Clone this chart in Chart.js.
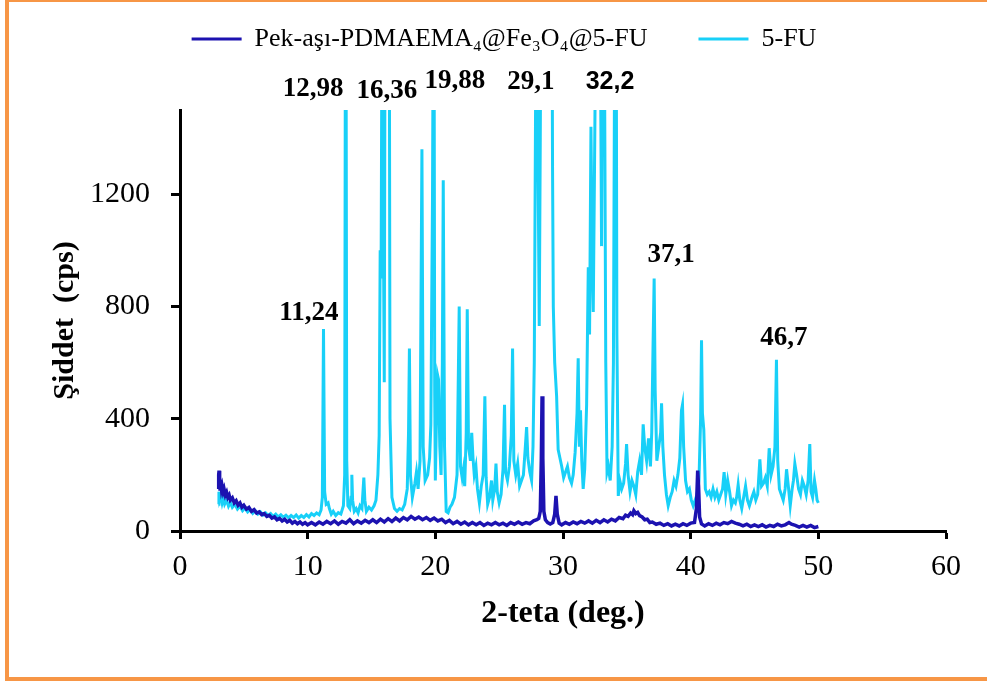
<!DOCTYPE html>
<html>
<head>
<meta charset="utf-8">
<script src="https://cdn.jsdelivr.net/npm/chart.js@4"></script>
<style>
  body { margin: 0; background: #fff; }
  #wrap { position: relative; width: 987px; height: 682px; overflow: hidden; }
  #frame { position: absolute; left: 5px; top: -2px; width: 990px; height: 675px; border: 4px solid #F79646; pointer-events: none; }
</style>
</head>
<body>
<div id="wrap">
  <canvas id="xrd"></canvas>
  <div id="frame"></div>
</div>
<script>
// series names (legend order)
const seriesNames = ['Pek-aşı-PDMAEMA₄@Fe₃O₄@5-FU', '5-FU'];

// axis tick values
const xTicks = [0, 10, 20, 30, 40, 50, 60];
const yTicks = [0, 400, 800, 1200];

// Pek-aşı-PDMAEMA4@Fe3O4@5-FU scan: [2-teta, cps]
const pekScan = [
  [3.00,150],[3.03,200],[3.06,215],[3.09,180],[3.12,190],[3.16,160],[3.20,175],[3.25,150],[3.30,160],[3.38,140],
  [3.45,150],[3.55,128],[3.65,138],[3.75,120],[3.85,128],[3.95,110],[4.10,118],[4.25,100],[4.40,108],[4.55,92],
  [4.70,100],[4.85,85],[5.00,92],[5.20,78],[5.40,84],[5.60,70],[5.80,76],[6.00,64],[6.20,68],[6.40,58],
  [6.60,62],[6.80,52],[7.00,56],[7.20,46],[7.40,50],[7.60,40],[7.80,45],[8.00,36],[8.20,42],[8.40,32],
  [8.60,38],[8.80,28],[9.00,34],[9.20,26],[9.40,32],[9.60,24],[9.80,30],[10.00,22],[10.30,30],[10.60,22],
  [10.90,32],[11.20,24],[11.50,34],[11.80,26],[12.10,36],[12.40,24],[12.70,34],[13.00,28],[13.30,40],[13.60,26],
  [13.90,36],[14.20,28],[14.50,38],[14.80,30],[15.10,40],[15.40,30],[15.70,42],[16.00,32],[16.30,44],[16.60,34],
  [16.90,46],[17.20,36],[17.50,48],[17.80,40],[18.10,52],[18.40,42],[18.70,50],[19.00,40],[19.30,48],[19.60,38],
  [19.90,46],[20.20,36],[20.50,42],[20.80,30],[21.10,38],[21.40,26],[21.70,34],[22.00,24],[22.30,32],[22.60,22],
  [22.90,30],[23.20,22],[23.50,30],[23.80,20],[24.10,28],[24.40,22],[24.70,30],[25.00,22],[25.30,28],[25.60,20],
  [25.90,30],[26.20,24],[26.50,32],[26.80,24],[27.10,30],[27.40,26],[27.70,36],[27.95,40],[28.10,45],[28.22,70],
  [28.30,250],[28.36,480],[28.42,260],[28.50,70],[28.62,40],[28.80,30],[29.00,25],[29.20,30],[29.35,60],[29.45,125],
  [29.55,60],[29.70,28],[29.90,22],[30.20,30],[30.50,24],[30.80,32],[31.10,26],[31.40,34],[31.70,28],[32.00,36],
  [32.30,28],[32.60,38],[32.90,30],[33.20,40],[33.50,32],[33.80,42],[34.10,36],[34.40,48],[34.70,44],[34.90,56],
  [35.10,52],[35.30,64],[35.45,58],[35.55,72],[35.70,62],[35.85,66],[36.00,55],[36.20,50],[36.40,40],[36.60,42],
  [36.80,30],[37.00,32],[37.30,24],[37.60,28],[37.90,20],[38.20,26],[38.50,18],[38.80,24],[39.10,18],[39.40,26],
  [39.70,20],[40.00,28],[40.30,30],[40.45,80],[40.55,215],[40.62,160],[40.70,50],[40.85,25],[41.10,18],[41.40,26],
  [41.70,20],[42.00,28],[42.30,22],[42.60,30],[42.90,26],[43.20,34],[43.50,28],[43.80,24],[44.10,18],[44.40,24],
  [44.70,16],[45.00,22],[45.30,16],[45.60,22],[45.90,14],[46.20,20],[46.50,16],[46.80,24],[47.10,18],[47.40,22],
  [47.70,30],[47.90,24],[48.20,20],[48.50,14],[48.80,20],[49.10,14],[49.40,20],[49.70,12],[50.00,16]
];

// 5-FU scan: [2-teta, cps]
const fuScan = [
  [3.00,95],[3.05,140],[3.10,110],[3.20,125],[3.30,100],[3.40,118],[3.50,96],[3.65,110],[3.80,88],[3.95,102],
  [4.10,84],[4.30,95],[4.50,78],[4.70,88],[4.90,72],[5.10,82],[5.30,68],[5.50,76],[5.70,63],[5.90,72],
  [6.10,60],[6.30,68],[6.50,57],[6.70,65],[6.90,55],[7.10,62],[7.30,52],[7.50,60],[7.70,50],[7.90,58],
  [8.10,49],[8.30,56],[8.50,47],[8.70,55],[8.90,48],[9.10,57],[9.30,46],[9.50,55],[9.70,48],[9.90,58],
  [10.10,50],[10.30,62],[10.50,55],[10.70,64],[10.90,58],[11.05,75],[11.15,120],[11.24,720],[11.33,140],[11.45,95],
  [11.60,100],[11.70,80],[11.85,60],[12.00,70],[12.20,55],[12.40,65],[12.60,60],[12.80,90],[12.90,200],[12.98,2600],
  [13.06,250],[13.15,90],[13.30,80],[13.40,120],[13.46,200],[13.52,110],[13.65,70],[13.80,80],[13.95,65],[14.10,90],
  [14.25,80],[14.40,190],[14.48,110],[14.60,70],[14.80,85],[15.00,75],[15.20,90],[15.35,110],[15.50,200],[15.60,340],
  [15.68,1000],[15.75,900],[15.85,2200],[15.93,1100],[16.00,530],[16.08,2300],[16.20,1600],[16.30,1900],[16.36,2800],[16.45,400],
  [16.60,120],[16.80,80],[17.00,70],[17.20,80],[17.40,75],[17.60,95],[17.80,150],[17.90,350],[17.97,650],[18.05,200],
  [18.20,120],[18.40,170],[18.52,210],[18.65,150],[18.80,250],[18.95,1360],[19.05,300],[19.20,180],[19.40,200],[19.55,260],
  [19.65,380],[19.78,1200],[19.88,2400],[19.95,500],[20.00,180],[20.10,430],[20.18,555],[20.25,540],[20.35,300],[20.45,200],
  [20.55,600],[20.62,1250],[20.72,300],[20.85,70],[21.00,65],[21.15,85],[21.30,95],[21.50,120],[21.70,200],[21.87,800],
  [21.97,230],[22.10,190],[22.20,220],[22.30,160],[22.42,350],[22.50,790],[22.60,300],[22.75,250],[22.85,350],[22.95,260],
  [23.05,200],[23.18,230],[23.30,150],[23.45,100],[23.60,160],[23.75,200],[23.88,480],[23.98,190],[24.10,95],[24.25,120],
  [24.40,180],[24.50,110],[24.65,150],[24.75,240],[24.85,140],[25.00,100],[25.15,130],[25.30,220],[25.42,450],[25.50,210],
  [25.65,180],[25.80,230],[25.95,340],[26.05,650],[26.15,250],[26.30,200],[26.45,240],[26.60,160],[26.75,180],[26.90,200],
  [27.05,300],[27.15,370],[27.25,260],[27.40,210],[27.54,180],[27.65,300],[27.75,600],[27.85,1500],[27.93,2500],[28.05,1300],
  [28.14,730],[28.22,1400],[28.32,2400],[28.45,1700],[28.60,1800],[28.80,2000],[29.00,2200],[29.10,2500],[29.18,1300],[29.24,800],
  [29.35,600],[29.50,480],[29.62,290],[29.76,260],[29.90,230],[30.05,190],[30.20,210],[30.35,230],[30.50,190],[30.67,170],
  [30.80,200],[30.95,280],[31.10,420],[31.19,615],[31.28,300],[31.37,430],[31.47,250],[31.58,150],[31.70,220],[31.85,450],
  [31.98,940],[32.08,700],[32.19,1440],[32.28,1000],[32.37,780],[32.47,1300],[32.60,2000],[32.72,1800],[32.85,2400],[33.02,1015],
  [33.12,2200],[33.25,1700],[33.35,600],[33.45,210],[33.55,230],[33.70,180],[33.85,300],[33.95,600],[34.05,1800],[34.14,2500],
  [34.22,700],[34.33,125],[34.45,180],[34.60,150],[34.75,170],[34.90,240],[34.98,310],[35.10,200],[35.25,140],[35.40,180],
  [35.55,160],[35.70,130],[35.85,210],[36.00,250],[36.15,200],[36.28,380],[36.40,300],[36.55,250],[36.70,330],[36.85,230],
  [36.95,350],[37.05,650],[37.14,900],[37.22,500],[37.35,250],[37.50,300],[37.65,350],[37.72,455],[37.82,300],[37.95,200],
  [38.10,130],[38.24,90],[38.40,120],[38.55,140],[38.70,180],[38.85,160],[39.00,200],[39.15,260],[39.28,430],[39.36,450],
  [39.45,300],[39.60,180],[39.75,140],[39.90,150],[40.05,110],[40.20,90],[40.35,110],[40.50,130],[40.65,180],[40.78,400],
  [40.85,680],[40.92,420],[41.03,360],[41.15,150],[41.30,130],[41.45,140],[41.60,120],[41.75,150],[41.90,120],[42.05,140],
  [42.20,110],[42.35,130],[42.50,150],[42.62,210],[42.75,130],[42.90,180],[43.05,140],[43.20,90],[43.35,110],[43.50,100],
  [43.60,120],[43.72,165],[43.85,110],[44.00,80],[44.15,120],[44.30,160],[44.45,110],[44.60,90],[44.80,120],[44.95,140],
  [45.10,110],[45.25,130],[45.42,255],[45.55,160],[45.70,170],[45.85,190],[46.00,160],[46.15,295],[46.30,200],[46.45,230],
  [46.60,300],[46.72,610],[46.82,250],[46.95,150],[47.10,130],[47.25,110],[47.40,150],[47.51,220],[47.65,160],[47.80,90],
  [47.95,150],[48.05,180],[48.16,240],[48.30,200],[48.45,150],[48.60,130],[48.75,180],[48.90,160],[49.05,130],[49.20,180],
  [49.33,310],[49.43,140],[49.55,120],[49.70,180],[49.80,150],[49.90,110],[50.00,100]
];

// peak annotations: text, anchor angle, anchor cps
const peakText  = ['12,98', '16,36', '19,88', '29,1', '32,2', '11,24', '37,1', '46,7'];
const peakAngle = [10.42, 16.21, 21.54, 27.49, 33.68, 10.10, 38.46, 47.31];
const peakCps   = [1574, 1567, 1603, 1599, 1599, 776, 983, 687];

const SERIF = "'Liberation Serif', 'Times New Roman', serif";
const colors = ['#1C12B0', '#18D0F8'];

const toPoints = scan => scan.map(p => ({ x: p[0], y: p[1] }));

// draws the peak position labels through the scales
const peakLabels = {
  id: 'peakLabels',
  afterDatasetsDraw(chart) {
    const { ctx, scales: { x, y } } = chart;
    ctx.save();
    ctx.fillStyle = '#000';
    ctx.textAlign = 'center';
    ctx.textBaseline = 'middle';
    peakText.forEach((t, i) => {
      ctx.font = t === '32,2' ? "bold 25px 'Liberation Sans', Arial, sans-serif" : 'bold 27px ' + SERIF;
      ctx.fillText(t, x.getPixelForValue(peakAngle[i]), y.getPixelForValue(peakCps[i]));
    });
    ctx.restore();
  }
};

new Chart(document.getElementById('xrd'), {
  type: 'line',
  data: {
    datasets: [
      { label: seriesNames[0], data: toPoints(pekScan), borderColor: colors[0], backgroundColor: colors[0], borderWidth: 3.5 },
      { label: seriesNames[1], data: toPoints(fuScan), borderColor: colors[1], backgroundColor: colors[1], borderWidth: 3 }
    ]
  },
  options: {
    responsive: true,
    maintainAspectRatio: false,
    animation: false,
    events: [],
    elements: { point: { radius: 0 }, line: { tension: 0 } },
    layout: { padding: { top: -25, left: 62, right: 41, bottom: 0 } },
    plugins: {
      tooltip: { enabled: false },
      title: {
        display: true,
        text: '',
        weight: 500,
        font: { size: 10, lineHeight: 1 },
        padding: { top: 38, bottom: 0 }
      },
      legend: {
        position: 'top',
        labels: {
          color: '#000',
          font: { family: SERIF, size: 26 },
          boxWidth: 50,
          boxHeight: 3,
          padding: 51,
          generateLabels(chart) {
            return Chart.defaults.plugins.legend.labels.generateLabels(chart).map(item => {
              item.lineWidth = 0;
              return item;
            });
          }
        }
      }
    },
    scales: {
      x: {
        type: 'linear',
        min: 0,
        max: 60,
        afterFit(scale) { scale.height = 151; },
        afterBuildTicks(scale) { scale.ticks = xTicks.map(v => ({ value: v })); },
        ticks: { color: '#000', font: { family: SERIF, size: 30 }, padding: 10, callback: v => String(v) },
        grid: { drawOnChartArea: false, drawTicks: true, tickLength: 8, tickWidth: 3, tickColor: '#000' },
        border: { display: true, color: '#000', width: 3 },
        title: {
          display: true,
          text: '2-teta (deg.)',
          color: '#000',
          font: { family: SERIF, size: 32, weight: 'bold' },
          padding: { top: 0, bottom: 49 }
        }
      },
      y: {
        min: 0,
        max: 1500,
        afterFit(scale) { scale.width = 118; },
        afterBuildTicks(scale) { scale.ticks = yTicks.map(v => ({ value: v })); },
        ticks: { color: '#000', font: { family: SERIF, size: 30 }, padding: 21, callback: v => String(v) },
        grid: { drawOnChartArea: false, drawTicks: true, tickLength: 9, tickWidth: 3, tickColor: '#000' },
        border: { display: true, color: '#000', width: 3 },
        title: {
          display: true,
          text: 'Şiddet  (cps)',
          color: '#000',
          font: { family: SERIF, size: 30, weight: 'bold' },
          padding: { top: -15, bottom: 0 }
        }
      }
    }
  },
  plugins: [peakLabels]
});
</script>
</body>
</html>
